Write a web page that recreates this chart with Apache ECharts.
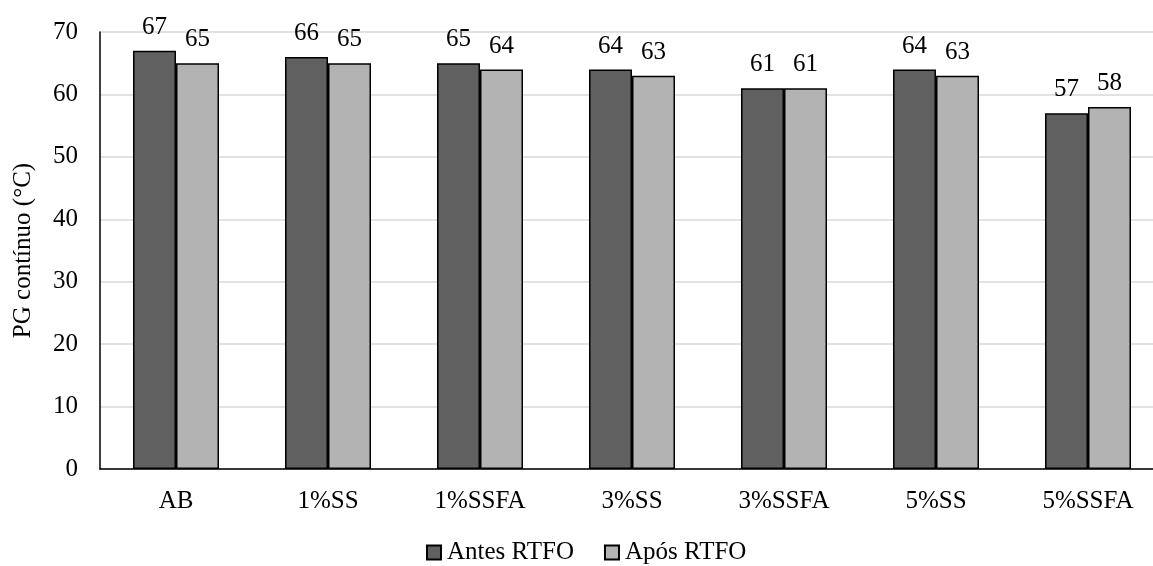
<!DOCTYPE html>
<html>
<head>
<meta charset="utf-8">
<script src="https://cdn.jsdelivr.net/npm/echarts@6/dist/echarts.min.js"></script>
<style>
html,body{margin:0;padding:0;background:#fff;}
#chart{width:1153px;height:566px;}
</style>
</head>
<body>
<div id="chart"></div>
<script>
const categories = ['AB', '1%SS', '1%SSFA', '3%SS', '3%SSFA', '5%SS', '5%SSFA'];
const antesRTFO = [67, 66, 65, 64, 61, 64, 57];
const aposRTFO = [65, 65, 64, 63, 61, 63, 58];
const seriesNames = ['Antes RTFO', 'Após RTFO'];
const yAxisName = 'PG contínuo (°C)';

const FONT = '"Liberation Serif", "Times New Roman", serif';
const FS = 25;
const chart = echarts.init(document.getElementById('chart'));
const labelStyle = {
  show: true, position: 'top', distance: 11,
  fontFamily: FONT, fontSize: FS, color: '#000'
};
chart.setOption({
  animation: false,
  backgroundColor: '#fff',
  textStyle: { fontFamily: FONT },
  grid: { left: 100, top: 32, width: 1064, height: 437, containLabel: false, outerBoundsMode: 'none' },
  legend: {
    left: 421, top: 535,
    icon: 'rect',
    itemWidth: 14, itemHeight: 14, itemGap: 30,
    textStyle: { fontFamily: FONT, fontSize: FS, color: '#000', padding: [0, 0, 0, 1] },
    data: seriesNames
  },
  xAxis: {
    type: 'category',
    data: categories,
    axisLine: { show: true, lineStyle: { color: '#000', width: 1.5 } },
    axisTick: { show: false },
    axisLabel: { fontFamily: FONT, fontSize: FS, color: '#000', margin: 20 },
    splitLine: { show: false }
  },
  yAxis: {
    type: 'value',
    min: 0, max: 70, interval: 10,
    name: yAxisName,
    nameLocation: 'middle',
    nameGap: 64,
    nameRotate: 90,
    nameTextStyle: { fontFamily: FONT, fontSize: FS, color: '#000' },
    axisLine: { show: true, lineStyle: { color: '#000', width: 1.5 } },
    axisTick: { show: false },
    axisLabel: { fontFamily: FONT, fontSize: FS, color: '#000', margin: 22 },
    splitLine: { show: true, lineStyle: { color: '#d9d9d9', width: 1.5 } }
  },
  series: [
    {
      name: seriesNames[0], type: 'bar', data: antesRTFO,
      barWidth: 43, barGap: '0%',
      itemStyle: { color: '#606060', borderColor: '#000', borderWidth: 1.5 },
      label: labelStyle
    },
    {
      name: seriesNames[1], type: 'bar', data: aposRTFO,
      barWidth: 43,
      itemStyle: { color: '#b3b3b3', borderColor: '#000', borderWidth: 1.5 },
      label: labelStyle
    }
  ]
});
</script>
</body>
</html>
